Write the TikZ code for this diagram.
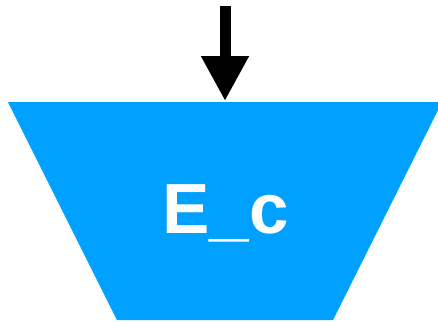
\documentclass[tikz,border=0pt]{standalone}
\usepackage{fontspec}
\setmainfont{Liberation Sans}
\usetikzlibrary{arrows.meta}

\definecolor{stageblue}{RGB}{0,160,255}

\begin{document}
\begin{tikzpicture}[x=1pt,y=1pt,
  stage/.style={fill=stageblue,draw=none},
  label/.style={text=white,font=\fontsize{71}{71}\selectfont\bfseries,inner sep=0pt,anchor=base},
  feed/.style={line width=11pt,-{Triangle[length=45pt,width=45pt]}}]
\useasboundingbox (0,0) rectangle (438,322);

% the stage: an upside-down trapezium
  \fill[stage] (8,220) -- (442,220) -- (333,2) -- (117,2) -- cycle;
  \node[label] (ec) at (225.5,89) {E\_c};

% the input arrow
  \coordinate (src) at (225,316);
  \coordinate (feedin) at (225,221);
  \draw[feed] (src) -- (feedin);

\end{tikzpicture}
\end{document}
